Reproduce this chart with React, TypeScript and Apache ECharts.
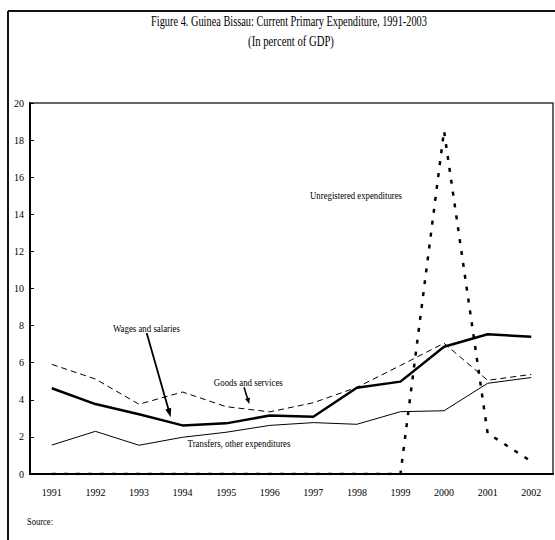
import React, { useEffect, useRef } from "react";
import * as echarts from "echarts";

const years = ["1991", "1992", "1993", "1994", "1995", "1996", "1997", "1998", "1999", "2000", "2001", "2002"];
const wages = [4.62, 3.77, 3.22, 2.62, 2.73, 3.15, 3.09, 4.65, 4.98, 6.86, 7.53, 7.4];
const goods = [5.91, 5.12, 3.76, 4.42, 3.63, 3.35, 3.84, 4.67, 5.85, 7.05, 5.05, 5.37];
const transfers = [1.56, 2.3, 1.55, 1.98, 2.25, 2.62, 2.77, 2.68, 3.36, 3.41, 4.89, 5.2];
const unregistered = [0, 0, 0, 0, 0, 0, 0, 0, 0, 18.5, 2.2, 0.68];

const titleText = "Figure 4. Guinea Bissau: Current Primary Expenditure, 1991-2003";
const subtitleText = "(In percent of GDP)";
const sourceText = "Source:";

const FONT = "'Liberation Serif', 'Times New Roman', serif";

function measure(text: string, size: number): number {
  const c = document.createElement("canvas");
  const ctx = c.getContext("2d");
  if (!ctx) return text.length * size * 0.45;
  ctx.font = `${size}px ${FONT}`;
  return ctx.measureText(text).width;
}

function condensed(text: string, cx: number, cy: number, size: number, targetW: number) {
  const w = measure(text, size);
  const s = Math.min(1, targetW / w);
  return {
    type: "text",
    x: cx,
    y: cy,
    scaleX: s,
    silent: true,
    style: {
      text,
      fill: "#000",
      font: `${size}px ${FONT}`,
      textAlign: "center",
      textVerticalAlign: "middle",
    },
  };
}

function arrow(x1: number, y1: number, x2: number, y2: number, head: number, half: number, lw: number) {
  const dx = x2 - x1;
  const dy = y2 - y1;
  const len = Math.sqrt(dx * dx + dy * dy);
  const ux = dx / len;
  const uy = dy / len;
  const bx = x2 - ux * head;
  const by = y2 - uy * head;
  const px = -uy * half;
  const py = ux * half;
  return [
    {
      type: "line",
      silent: true,
      shape: { x1, y1, x2: bx + ux, y2: by + uy },
      style: { stroke: "#000", lineWidth: lw },
    },
    {
      type: "polygon",
      silent: true,
      shape: { points: [[x2, y2], [bx + px, by + py], [bx - px, by - py]] },
      style: { fill: "#000" },
    },
  ];
}

export default function App() {
  const ref = useRef<HTMLDivElement>(null);
  useEffect(() => {
    if (!ref.current) return;
    const chart = echarts.init(ref.current, null, { renderer: "svg" });
    const base = { type: "line", symbol: "none", silent: true, data: [] as number[] };
    chart.setOption({
      animation: false,
      backgroundColor: "#fff",
      grid: {
        left: 30,
        right: 2,
        top: 103,
        bottom: 66,
        show: true,
        borderColor: "#333",
        borderWidth: 1.5,
      },
      xAxis: {
        type: "category",
        data: years,
        boundaryGap: true,
        axisLine: { lineStyle: { color: "#000", width: 2 } },
        axisTick: { inside: true, length: 4, lineStyle: { color: "#000", width: 1 } },
        axisLabel: { color: "#000", fontFamily: FONT, fontSize: 10, margin: 13, interval: 0 },
        splitLine: { show: false },
      },
      yAxis: {
        type: "value",
        min: 0,
        max: 20,
        interval: 2,
        axisLine: { show: true, lineStyle: { color: "#000", width: 2 } },
        axisTick: { show: true, inside: true, length: 4, lineStyle: { color: "#000", width: 1 } },
        axisLabel: { color: "#000", fontFamily: FONT, fontSize: 10, margin: 6 },
        splitLine: { show: false },
      },
      series: [
        { ...base, name: "Transfers, other expenditures", data: transfers, lineStyle: { color: "#000", width: 1, type: "solid" } },
        { ...base, name: "Goods and services", data: goods, lineStyle: { color: "#000", width: 1, type: [6, 4] } },
        { ...base, name: "Wages and salaries", data: wages, lineStyle: { color: "#000", width: 2.5, type: "solid" } },
        { ...base, name: "Unregistered expenditures", data: unregistered, lineStyle: { color: "#000", width: 2.5, type: [4, 8], cap: "butt" } },
      ],
      graphic: [
        {
          type: "line",
          silent: true,
          shape: { x1: 8, y1: 11, x2: 555, y2: 11 },
          style: { stroke: "#111", lineWidth: 2 },
        },
        {
          type: "line",
          silent: true,
          shape: { x1: 8, y1: 11, x2: 8, y2: 540 },
          style: { stroke: "#111", lineWidth: 2 },
        },
        condensed(titleText, 289, 21, 14, 276),
        condensed(subtitleText, 291, 42, 14, 86),
        condensed("Unregistered expenditures", 356, 195, 11, 92),
        condensed("Wages and salaries", 146.4, 328, 11, 67),
        condensed("Goods and services", 248.3, 382.5, 11, 69),
        condensed("Transfers, other expenditures", 239, 443, 11, 103),
        condensed(sourceText, 40, 521, 11, 26),
        ...arrow(146.7, 333, 170.7, 417.3, 9, 3, 1.8),
        ...arrow(244, 387.3, 249.3, 404, 6, 2.5, 1.5),
      ],
    });
    return () => chart.dispose();
  }, []);
  return <div ref={ref} style={{ position: "absolute", left: 0, top: 0, width: 555, height: 540 }} />;
}
